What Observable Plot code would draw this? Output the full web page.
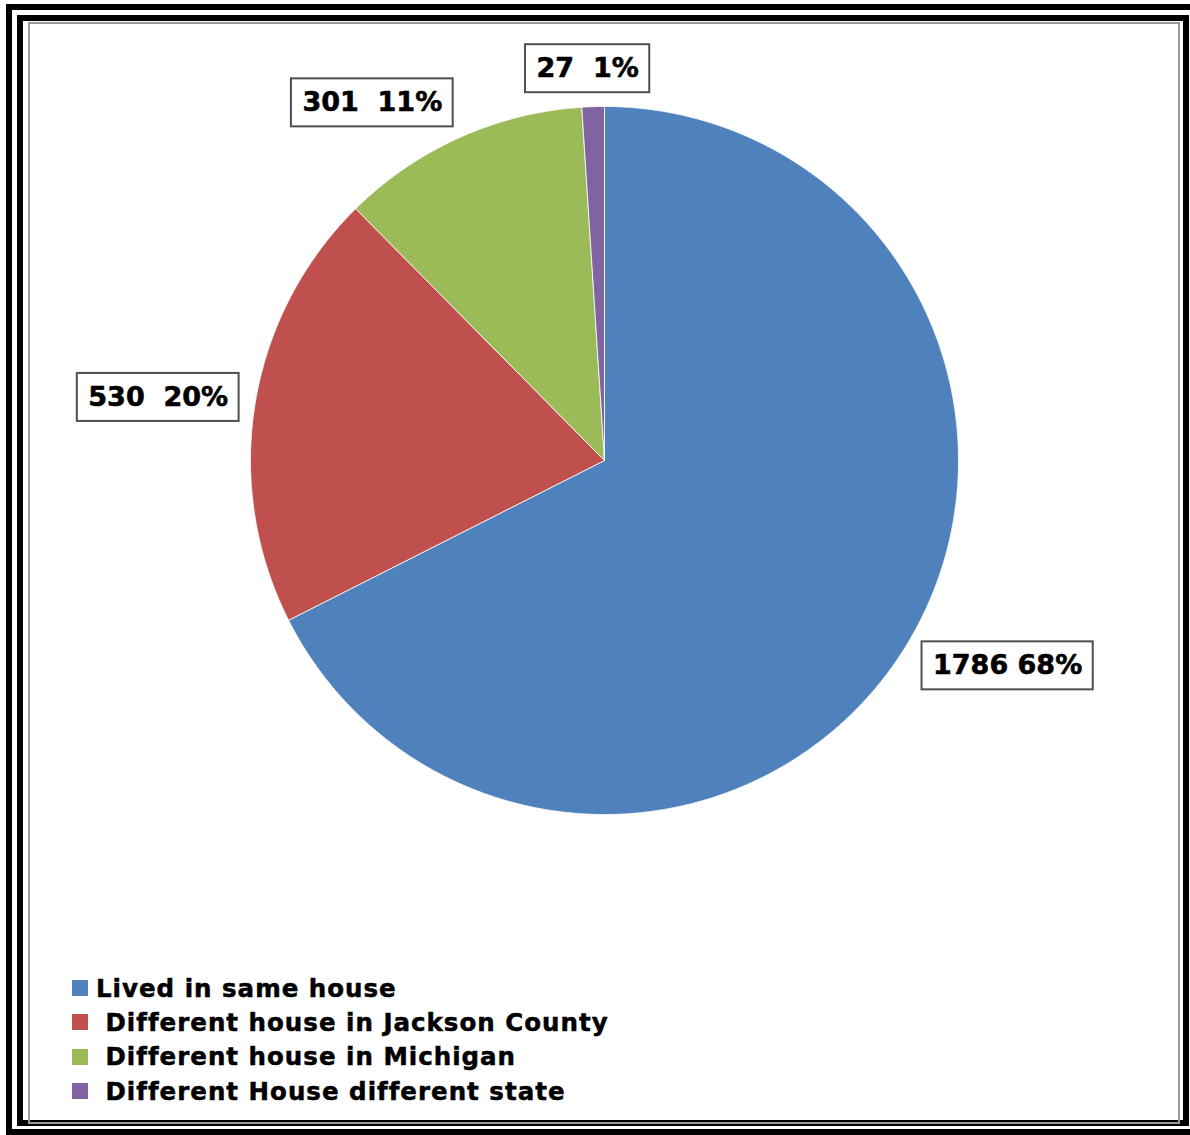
<!DOCTYPE html>
<html><head><meta charset="utf-8">
<script src="https://cdn.jsdelivr.net/npm/d3@7"></script>
<script src="https://cdn.jsdelivr.net/npm/@observablehq/plot@0.6"></script>
<style>
body{margin:0;background:#fff;overflow:hidden;}
#page{position:relative;width:1190px;height:1135px;overflow:hidden;font-family:"DejaVu Sans",sans-serif;background:#fff;}
#chart{position:absolute;left:0;top:0;}
.frame{position:absolute;box-sizing:border-box;pointer-events:none;}
#legend{position:absolute;left:72px;top:971px;}
.row{display:flex;align-items:center;height:34.3px;font-weight:bold;font-size:24.5px;letter-spacing:1px;white-space:pre;color:#000;}
.sw{width:16px;height:16px;margin-right:8px;flex:none;}
</style></head>
<body><div id="page">
<div id="chart"></div>
<div id="legend"></div>
<div class="frame" style="left:6px;top:4px;width:1210px;height:1131px;border:6px solid #000;"></div>
<div class="frame" style="left:17px;top:15px;width:1172px;height:1111px;border:6px solid #000;"></div>
<div class="frame" style="left:28px;top:22px;width:1152px;height:1102px;border:2.5px solid #9a9a9a;"></div>
</div>
<script>
const categories = ["Lived in same house", " Different house in Jackson County", " Different house in Michigan", " Different House different state"];
const values = [1786, 530, 301, 27];
const colors = ["#4F81BD", "#C0504D", "#9BBB59", "#8064A2"];

const total = d3.sum(values);
let acc = 0;
const slices = values.map((v, i) => {
  const a0 = acc / total * 2 * Math.PI; acc += v;
  const a1 = acc / total * 2 * Math.PI;
  return {cat: categories[i], v, a0, a1, mid: (a0 + a1) / 2, pct: Math.round(v / total * 100)};
});
const pts = [];
for (const s of slices) {
  pts.push({cat: s.cat, x: 0, y: 0});
  const n = Math.max(2, Math.ceil((s.a1 - s.a0) / (Math.PI / 360)));
  for (let k = 0; k <= n; k++) {
    const a = s.a0 + (s.a1 - s.a0) * k / n;
    pts.push({cat: s.cat, x: Math.sin(a), y: Math.cos(a)});
  }
  pts.push({cat: s.cat, x: 0, y: 0});
}

const R = 354, fs = 27, boxH = 48, padX = 11;
const ctx = document.createElement("canvas").getContext("2d");
ctx.font = `bold ${fs}px "DejaVu Sans"`;
const labels = slices.map(s => {
  const text = `${s.v}${s.v >= 1000 ? " " : "\u00a0 "}${s.pct}%`;
  const w = ctx.measureText(text.replace(/\u00a0/g, " ")).width + 2 * padX;
  const ux = Math.sin(s.mid), uy = Math.cos(s.mid);
  const dxp = Math.max(-1, Math.min(1, ux * 2.2)) * (w / 2 + 16);
  const dyp = uy * (boxH / 2 + 14);
  const cx = ux + dxp / R, cy = uy + dyp / R;
  return {text, cx, cy, x1: cx - w / 2 / R, x2: cx + w / 2 / R, y1: cy - boxH / 2 / R, y2: cy + boxH / 2 / R};
});

const chart = Plot.plot({
  width: 1190, height: 960,
  marginLeft: 250, marginRight: 232, marginTop: 106, marginBottom: 146,
  x: {domain: [-1, 1], axis: null},
  y: {domain: [-1, 1], axis: null},
  color: {domain: categories, range: colors},
  style: {background: "transparent", overflow: "visible"},
  marks: [
    Plot.line(pts, {x: "x", y: "y", z: "cat", fill: "cat", stroke: "white", strokeWidth: 0.8, curve: "linear"}),
    Plot.rect(labels, {x1: "x1", x2: "x2", y1: "y1", y2: "y2", fill: "white", stroke: "#505050", strokeWidth: 2}),
    Plot.text(labels, {x: "cx", y: "cy", text: "text", fontSize: fs, fontWeight: "bold", fill: "black", fontFamily: "DejaVu Sans", stroke: "black", strokeWidth: 0.6})
  ]
});
document.getElementById("chart").appendChild(chart);

const legend = document.getElementById("legend");
categories.forEach((c, i) => {
  const row = document.createElement("div"); row.className = "row";
  const sw = document.createElement("div"); sw.className = "sw"; sw.style.background = colors[i];
  const t = document.createElement("span"); t.textContent = c; t.style.webkitTextStroke = "0.5px #000";
  row.appendChild(sw); row.appendChild(t); legend.appendChild(row);
});
</script>
</body></html>
